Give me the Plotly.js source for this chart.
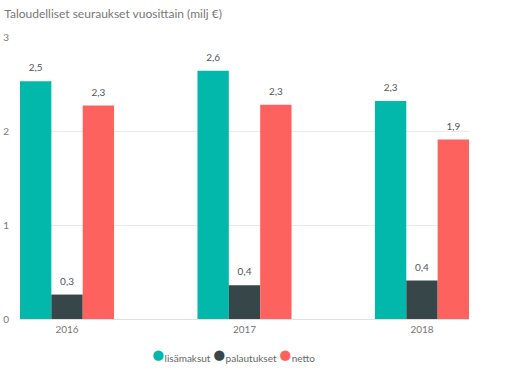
<!DOCTYPE html>
<html>
<head>
<meta charset="utf-8">
<script src="https://cdn.plot.ly/plotly-3.0.1.min.js"></script>
<style>html,body{margin:0;padding:0;background:#fff;}#chart{width:526px;height:385px;}</style>
</head>
<body>
<div id="chart"></div>
<script>
const years = ['2016', '2017', '2018'];
const lisamaksut = [2.53, 2.64, 2.32];
const palautukset = [0.26, 0.36, 0.41];
const netto = [2.27, 2.28, 1.91];
const seriesNames = ['lisämaksut', 'palautukset', 'netto'];
const colors = ['#01B8AA', '#374649', '#FD625E'];
const seriesValues = [lisamaksut, palautukset, netto];

const FONT = 'Lato, "Noto Sans", sans-serif';
const traces = [];
seriesValues.forEach((vals, i) => {
  traces.push({
    type: 'bar', x: years, y: vals, name: seriesNames[i],
    marker: {color: colors[i]},
    showlegend: false, hoverinfo: 'none'
  });
});
// value labels, grouped with the bars
seriesValues.forEach((vals, i) => {
  traces.push({
    type: 'scatter', mode: 'markers+text', x: years, y: vals, name: seriesNames[i] + ' labels',
    marker: {size: 10, opacity: 0, color: colors[i]},
    texttemplate: '%{y:.1f}', textposition: 'top center',
    textfont: {family: FONT, size: 10, color: '#555'},
    cliponaxis: false, showlegend: false, hoverinfo: 'none'
  });
});

const legendText = seriesNames.map((n, i) =>
  '<span style="color:' + colors[i] + ';font-size:21px">●</span>' + n).join('&nbsp;');

const layout = {
  width: 526, height: 385,
  margin: {l: 20, r: 57, t: 37, b: 66},
  paper_bgcolor: '#fff', plot_bgcolor: '#fff',
  separators: ', ',
  barmode: 'group', bargap: 0.47, bargroupgap: 0,
  scattermode: 'group', scattergap: 0.47,
  font: {family: FONT, size: 10, color: '#777'},
  title: {text: 'Taloudelliset seuraukset vuosittain (milj €)', x: 0.008, xanchor: 'left', y: 0.963, yanchor: 'middle',
          font: {family: FONT, size: 12, color: '#777'}},
  xaxis: {type: 'category', range: [-0.265, 2.265], showgrid: false, zeroline: false, showline: false, automargin: false,
          tickfont: {family: FONT, size: 10, color: '#777'}, ticks: '', ticklen: 0, ticklabelstandoff: 3},
  yaxis: {range: [0, 3], tickvals: [0, 1, 2, 3], ticktext: ['0', '1', '2', '3'], automargin: false,
          showgrid: true, gridcolor: '#eaeaea', gridwidth: 1, zeroline: true, zerolinecolor: '#e0e0e0',
          showline: false, ticks: '', ticklabelstandoff: 10,
          tickfont: {family: FONT, size: 10, color: '#777'}},
  showlegend: false,
  annotations: [{
    xref: 'paper', yref: 'paper', x: 0.475, y: -0.122, xanchor: 'center', yanchor: 'middle',
    text: legendText, showarrow: false, font: {family: FONT, size: 10, color: '#666'}
  }]
};

Plotly.newPlot('chart', traces, layout, {displayModeBar: false, staticPlot: true});
</script>
</body>
</html>
